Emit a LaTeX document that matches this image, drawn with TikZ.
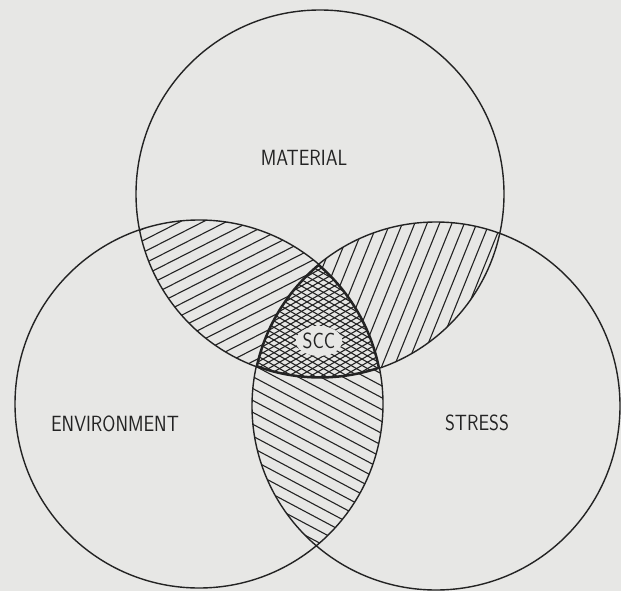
\documentclass[tikz,border=0pt]{standalone}
\usepackage{tikz}
\usetikzlibrary{calc,shapes.geometric}
\definecolor{paper}{RGB}{231,231,229}
\definecolor{ink}{RGB}{35,35,35}
\tikzset{
  ring/.style={draw=ink, line width=1.4pt},
  hatch/.style={draw=ink, line width=1.1pt},
  mesh/.style={draw=ink, line width=1.1pt},
  lbl/.style={text=ink, font=\sffamily\fontsize{22}{22}\selectfont, xscale=0.86, inner sep=1pt}
}

\begin{document}
\begin{tikzpicture}[x=1pt,y=-1pt]
  \def\rad{184}
  \coordinate (M) at (320,194);
  \coordinate (E) at (199,404);
  \coordinate (S) at (436,406);
  \coordinate (O) at (318,340);

  \fill[paper] (0,0) rectangle (621,591);
  \useasboundingbox (0,0) rectangle (621,591);

  % Material / Environment
  \begin{scope}
    \clip (M) circle (\rad);
    \clip (E) circle (\rad);
    \begin{scope}[shift={(O)}, rotate=27]
      \foreach \k in {-30,...,30}
        \draw[hatch] (-400,\k*10.5) -- (400,\k*10.5);
    \end{scope}
  \end{scope}

  % Material / Stress
  \begin{scope}
    \clip (M) circle (\rad);
    \clip (S) circle (\rad);
    \begin{scope}[shift={(O)}, rotate=68]
      \foreach \k in {-30,...,30}
        \draw[hatch] (-400,\k*11.5) -- (400,\k*11.5);
    \end{scope}
  \end{scope}

  % Environment / Stress
  \begin{scope}
    \clip (E) circle (\rad);
    \clip (S) circle (\rad);
    \begin{scope}[shift={(O)}, rotate=-28]
      \foreach \k in {-30,...,30}
        \draw[hatch] (-400,\k*10.5) -- (400,\k*10.5);
    \end{scope}
  \end{scope}

  % SCC: alle drei
  \begin{scope}
    \clip (M) circle (\rad);
    \clip (E) circle (\rad);
    \clip (S) circle (\rad);
    \fill[paper] (0,0) rectangle (621,591);
    \foreach \a in {30,-30}{
      \begin{scope}[shift={(O)}, rotate=\a]
        \foreach \k in {-20,...,20}
          \draw[mesh] (-200,\k*5.5) -- (200,\k*5.5);
      \end{scope}
    }
    \node[lbl, fill=paper, ellipse, inner sep=0pt, minimum width=54pt, minimum height=30pt] (scc) at (319,341) {SCC};
    \draw[ink, line width=3.6pt] (M) circle (\rad) (E) circle (\rad) (S) circle (\rad);
  \end{scope}

  \draw[ring] (M) circle (\rad);
  \draw[ring] (E) circle (\rad);
  \draw[ring] (S) circle (\rad);

  \node[lbl] (mat) at (304,158) {MATERIAL};
  \node[lbl] (env) at (115,424) {ENVIRONMENT};
  \node[lbl] (str) at (477,423) {STRESS};
\end{tikzpicture}
\end{document}
